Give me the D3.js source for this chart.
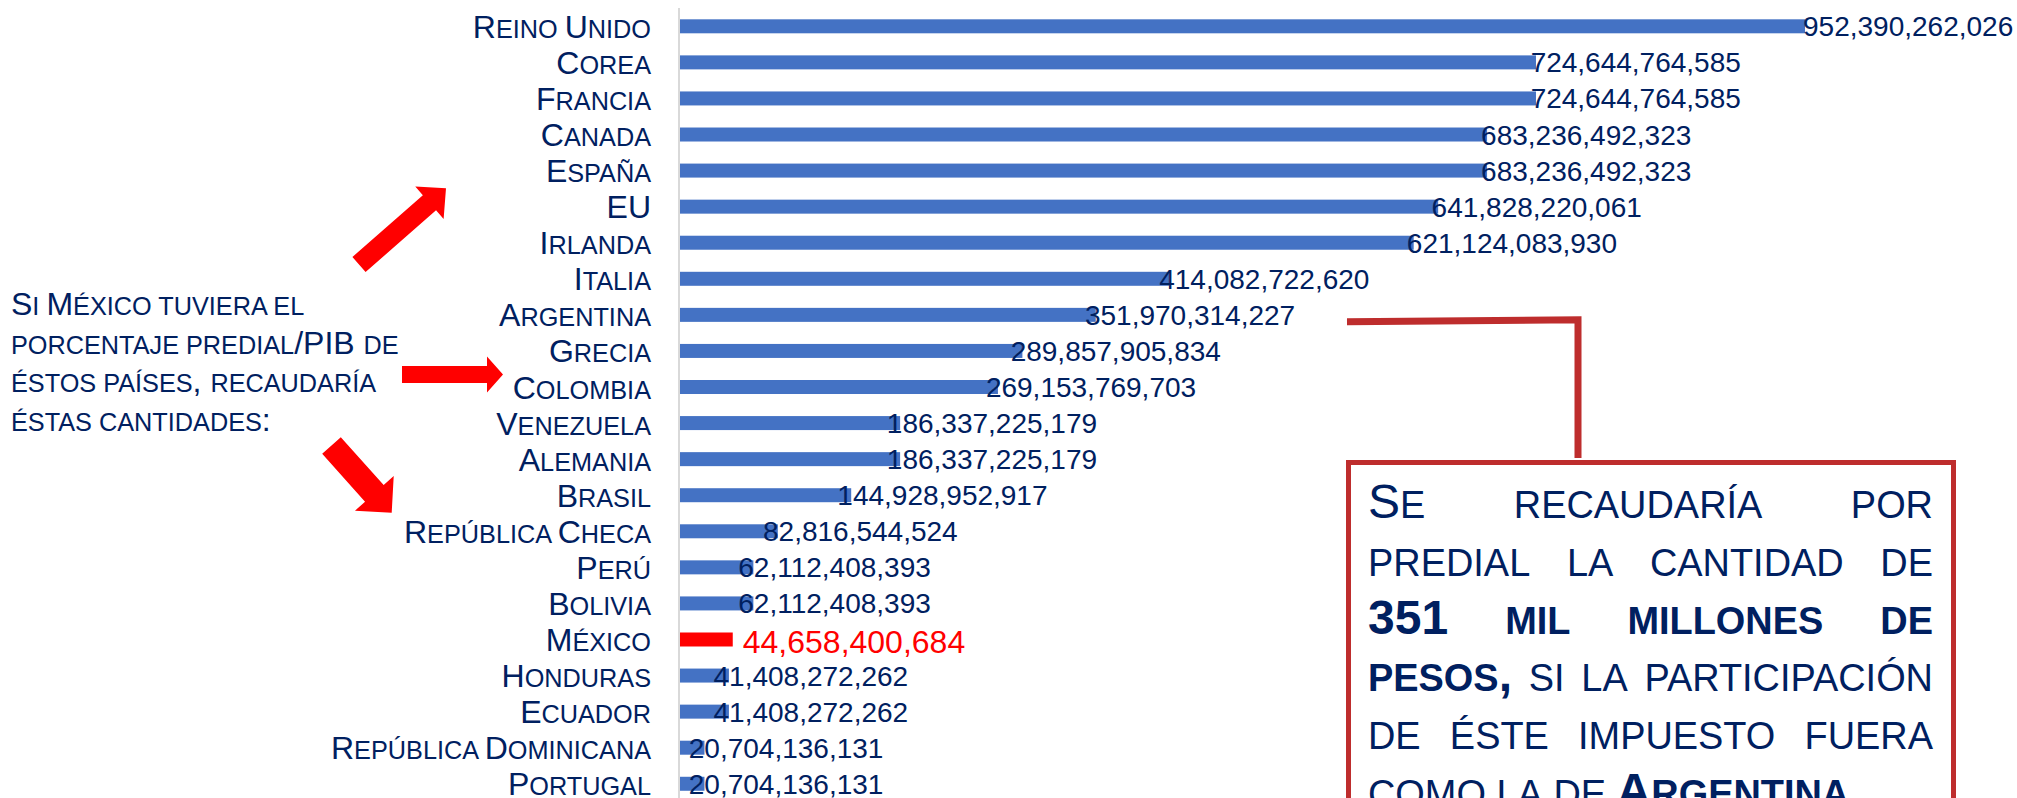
<!DOCTYPE html>
<html>
<head>
<meta charset="utf-8">
<script src="https://cdn.jsdelivr.net/npm/d3@7"></script>
<style>
  body { margin: 0; background: #fff; }
  svg { display: block; font-family: "Liberation Sans", Arial, sans-serif; }
  text { white-space: pre; }
</style>
</head>
<body>
<script>
const countries = ["Reino Unido", "Corea", "Francia", "Canada", "España", "EU", "Irlanda", "Italia",
    "Argentina", "Grecia", "Colombia", "Venezuela", "Alemania", "Brasil", "República Checa", "Perú",
    "Bolivia", "México", "Honduras", "Ecuador", "República Dominicana", "Portugal"];
const values = [952390262026, 724644764585, 724644764585, 683236492323, 683236492323, 641828220061,
    621124083930, 414082722620, 351970314227, 289857905834, 269153769703, 186337225179, 186337225179,
    144928952917, 82816544524, 62112408393, 62112408393, 44658400684, 41408272262, 41408272262,
    20704136131, 20704136131];
const highlight = "México";
const pointedRow = "Argentina";

const sideNote = ["Si México tuviera el", "porcentaje predial/PIB de", "éstos países, recaudaría", "éstas cantidades:"];
// words starting with * are bold
const boxNote = [
    ["Se", "recaudaría", "por"],
    ["predial", "la", "cantidad", "de"],
    ["*351", "*mil", "*millones", "*de"],
    ["*pesos,", "si", "la", "participación"],
    ["de", "éste", "impuesto", "fuera"],
    ["como", "la", "de", "*Argentina."]
];

const width = 2017;
const height = 798;
const navy = "#002060";
const blue = "#4472C4";
const red = "#FF0000";
const boxRed = "#BE2D2D";
const scRatio = 0.79;

const data = countries.map((c, i) => ({ country: c, value: values[i] }));

const svg = d3.select("body").append("svg")
    .attr("width", width)
    .attr("height", height);

svg.append("rect").attr("width", width).attr("height", height).attr("fill", "#fff");

// small caps done by hand: lower case letters become smaller capitals
function smallCaps(sel, str, size, bold) {
    const runs = [];
    for (const ch of str) {
        const low = ch !== ch.toUpperCase();
        const last = runs[runs.length - 1];
        if (last && (last.low === low || ch === " ")) last.t += low ? ch.toUpperCase() : ch;
        else runs.push({ low: low, t: low ? ch.toUpperCase() : ch });
    }
    runs.forEach(r => {
        sel.append("tspan")
            .style("font-size", (r.low ? size * scRatio : size) + "px")
            .style("font-weight", bold ? "bold" : "normal")
            .text(r.t);
    });
    return sel;
}

const xScale = d3.scaleLinear()
    .domain([0, d3.max(values)])
    .range([680, 1805]);

const yScale = d3.scaleBand()
    .domain(countries)
    .range([8.27, 8.27 + countries.length * 36.07])
    .paddingInner(0.612)
    .paddingOuter(0.306);

const yCenter = c => yScale(c) + yScale.bandwidth() / 2;

// axis line
svg.append("line")
    .attr("x1", 679).attr("x2", 679)
    .attr("y1", 8).attr("y2", height)
    .attr("stroke", "#d9d9d9")
    .attr("stroke-width", 2);

svg.selectAll("rect.bar")
    .data(data)
    .enter()
    .append("rect")
    .attr("class", "bar")
    .attr("x", xScale(0))
    .attr("y", d => yScale(d.country))
    .attr("width", d => xScale(d.value) - xScale(0))
    .attr("height", yScale.bandwidth())
    .attr("fill", d => d.country === highlight ? red : blue);

// category labels
svg.selectAll("text.cat")
    .data(data)
    .enter()
    .append("text")
    .attr("class", "cat")
    .attr("x", 651)
    .attr("y", d => yCenter(d.country) + 11.5)
    .attr("text-anchor", "end")
    .attr("fill", navy)
    .each(function (d) { smallCaps(d3.select(this), d.country, 32, false); });

// value labels
const fmt = d3.format(",");
svg.selectAll("text.val")
    .data(data)
    .enter()
    .append("text")
    .attr("class", "val")
    .attr("x", d => d.country === highlight ? xScale(d.value) + 10 : xScale(d.value) - 16 + 14 * d.value / d3.max(values))
    .attr("y", d => yCenter(d.country) + (d.country === highlight ? 14 : 10))
    .attr("fill", d => d.country === highlight ? red : navy)
    .style("font-size", d => d.country === highlight ? "32px" : "28px")
    .text(d => fmt(d.value));

// side note
sideNote.forEach((line, i) => {
    smallCaps(svg.append("text").attr("x", 11).attr("y", 315 + i * 38.5).attr("fill", navy), line, 32, false);
});

// red block arrows
function arrow(tail, tip, sw, hw, hl) {
    const dx = tip[0] - tail[0], dy = tip[1] - tail[1];
    const len = Math.hypot(dx, dy);
    const ux = dx / len, uy = dy / len;
    const nx = -uy, ny = ux;
    const bx = tip[0] - ux * hl, by = tip[1] - uy * hl;
    const pts = [
        [tail[0] + nx * sw / 2, tail[1] + ny * sw / 2],
        [bx + nx * sw / 2, by + ny * sw / 2],
        [bx + nx * hw / 2, by + ny * hw / 2],
        tip,
        [bx - nx * hw / 2, by - ny * hw / 2],
        [bx - nx * sw / 2, by - ny * sw / 2],
        [tail[0] - nx * sw / 2, tail[1] - ny * sw / 2]
    ];
    svg.append("path")
        .attr("d", d3.line()(pts) + "Z")
        .attr("fill", red);
}
arrow([359, 264.5], [446, 188.3], 20, 43, 22);
arrow([402, 374.5], [503, 374.5], 17, 36, 16);
arrow([331.5, 445.5], [391.7, 512.7], 25, 52, 26);

// callout connector from Argentina row
const ly = yCenter(pointedRow) + 7;
svg.append("path")
    .attr("d", `M1347,${ly} L1578,${ly - 2} L1578,458`)
    .attr("fill", "none")
    .attr("stroke", boxRed)
    .attr("stroke-width", 7);

svg.append("rect")
    .attr("x", 1348.5).attr("y", 462.5)
    .attr("width", 605).attr("height", 400)
    .attr("fill", "#fff")
    .attr("stroke", boxRed)
    .attr("stroke-width", 5);

// justified text in the box
const boxLeft = 1368, boxRight = 1933, boxSize = 48;
boxNote.forEach((words, i) => {
    const y = 518 + i * 57.8;
    const nodes = words.map(w => {
        const bold = w.startsWith("*");
        const t = svg.append("text").attr("y", y).attr("fill", navy);
        smallCaps(t, bold ? w.slice(1) : w, boxSize, bold);
        return t;
    });
    const widths = nodes.map(n => n.node().getComputedTextLength());
    const last = i === boxNote.length - 1;
    const gap = last ? boxSize * scRatio * 0.278 : (boxRight - boxLeft - d3.sum(widths)) / (words.length - 1);
    let x = boxLeft;
    nodes.forEach((n, j) => {
        n.attr("x", x);
        x += widths[j] + gap;
    });
});
</script>
</body>
</html>
